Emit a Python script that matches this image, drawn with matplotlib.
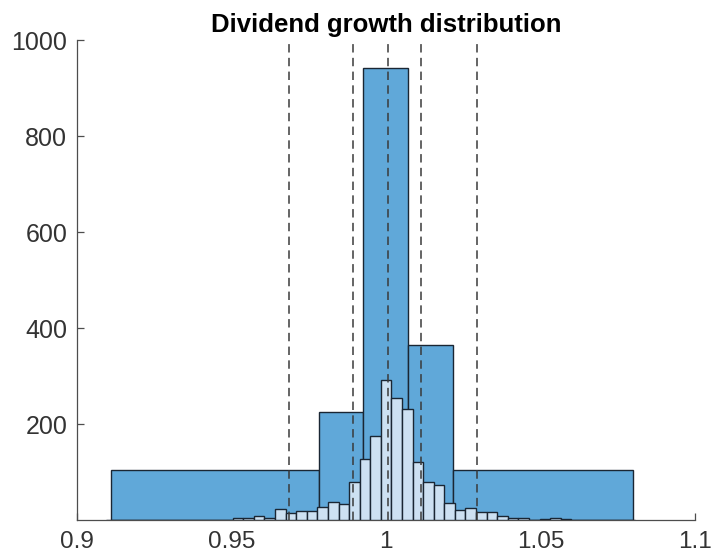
import numpy as np
import matplotlib
matplotlib.use("Agg")
import matplotlib.pyplot as plt

plt.rcParams['font.family'] = ['Liberation Sans', 'DejaVu Sans']

# Coarse histogram (bin edges and counts)
coarse_edges = [0.9109, 0.9782, 0.9927, 1.0071, 1.0217, 1.0798]
coarse_counts = [104, 226, 941, 365, 104]

# Fine histogram: 50 equal bins between these limits
fine_min, fine_max, fine_nbins = 0.9093, 1.0805, 50
fine_counts = [1, 0, 1, 0, 0, 0, 1, 0, 1, 1,
               0, 1, 4, 4, 8, 5, 22, 14, 19, 19,
               28, 38, 33, 80, 127, 176, 291, 255, 231, 120,
               79, 72, 36, 21, 25, 16, 16, 8, 5, 5,
               0, 2, 5, 2, 1, 1, 0, 0, 0, 1]

# Dashed reference lines
vlines_x = [0.9687, 0.9894, 1.0005, 1.0114, 1.0293]

xticks = [0.9, 0.95, 1.0, 1.05, 1.1]
xticklabels = ['0.9', '0.95', '1', '1.05', '1.1']
yticks = [200, 400, 600, 800, 1000]
yticklabels = ['200', '400', '600', '800', '1000']
title = 'Dividend growth distribution'

fig = plt.figure(figsize=(7.12, 5.57), dpi=100)
ax = fig.add_axes([77/712, 37/557, (695-77)/712, (520-40)/557])

ce = np.array(coarse_edges)
ax.bar(ce[:-1], coarse_counts, width=np.diff(ce), align='edge',
       color='#60a8d9', edgecolor='#1a2633', linewidth=1.0, zorder=2)

fe = np.linspace(fine_min, fine_max, fine_nbins + 1)
ax.bar(fe[:-1], fine_counts, width=np.diff(fe), align='edge',
       color='#cde1f2', edgecolor='#1a2633', linewidth=1.0, zorder=3)

for xv in vlines_x:
    ax.plot([xv, xv], [0, 1000], color='#3a3a3a', linewidth=1.1,
            linestyle=(0, (5.5, 3.5)), zorder=4)

ax.set_xlim(0.9, 1.1)
ax.set_ylim(0, 1000)
ax.set_xticks(xticks)
ax.set_xticklabels(xticklabels)
ax.set_yticks(yticks)
ax.set_yticklabels(yticklabels)

for s in ['top', 'right']:
    ax.spines[s].set_visible(False)
for s in ['left', 'bottom']:
    ax.spines[s].set_color('#4d4d4d')
    ax.spines[s].set_linewidth(0.9)

ax.tick_params(direction='in', length=5, width=0.9, colors='#4d4d4d',
               labelcolor='#333333')
ax.tick_params(axis='x', pad=8, labelsize=17.5)
ax.tick_params(axis='y', pad=7, labelsize=18)
ax.set_title(title, fontsize=18.5, fontweight='bold', pad=6)

fig.savefig('out.png', dpi=100)
